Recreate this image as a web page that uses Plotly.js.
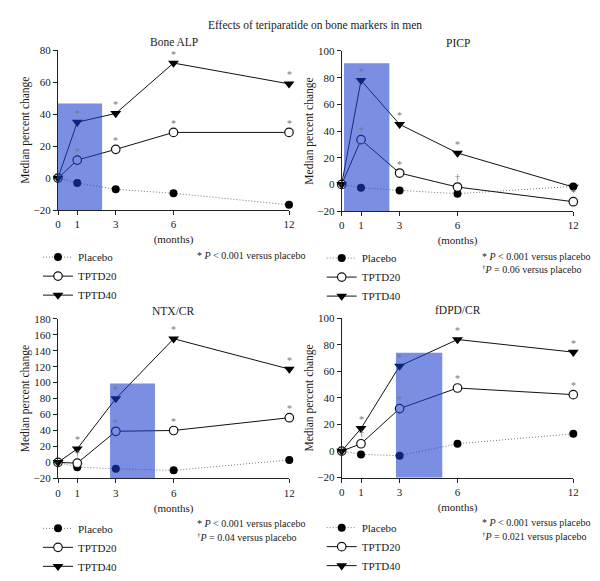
<!DOCTYPE html>
<html>
<head>
<meta charset="utf-8">
<script src="https://cdn.plot.ly/plotly-3.0.1.min.js"></script>
<style>html,body{margin:0;padding:0;background:#fff;}#chart{width:600px;height:581px;}</style>
</head>
<body>
<div id="chart"></div>
<script>
// ---- data ----
var months = [0, 1, 3, 6, 12];
var seriesNames = ["Placebo", "TPTD20", "TPTD40"];
var panelTitles = ["Bone ALP", "PICP", "NTX/CR", "fDPD/CR"];

var alpPlacebo = [0, -3, -7, -9.5, -16.7];
var alpT20 = [0, 11.3, 18, 28.6, 28.6];
var alpT40 = [0, 35, 40.5, 72, 59];
var alpSig20 = ["", "*", "*", "*", "*"];
var alpSig40 = ["", "*", "*", "*", "*"];

var picpPlacebo = [0, -2.5, -4.5, -7, -1.5];
var picpT20 = [0, 33.5, 8.5, -2, -13];
var picpT40 = [0, 78, 45, 23.5, -2];
var picpSig20 = ["", "*", "*", "\u2020", "*"];
var picpSig40 = ["", "*", "*", "*", ""];

var ntxPlacebo = [0, -6, -8, -10, 3];
var ntxT20 = [0, -1, 39, 40, 56];
var ntxT40 = [0, 17, 80, 155, 117];
var ntxSig20 = ["", "\u2020", "*", "*", "*"];
var ntxSig40 = ["", "*", "*", "*", "*"];

var dpdPlacebo = [0, -2.5, -3.5, 5.5, 13];
var dpdT20 = [0, 5.5, 32, 47.5, 42.5];
var dpdT40 = [0, 17, 64, 84, 74.5];
var dpdSig20 = ["", "\u2020", "*", "*", "*"];
var dpdSig40 = ["", "*", "*", "*", "*"];

var yRanges = [[-20, 80], [-20, 100], [-20, 180], [-20, 100]];
// highlighted periods [x0, x1, top] in months / percent
var bandX0 = [0, 0.12, 2.7, 2.81];
var bandX1 = [2.29, 2.47, 5.03, 5.21];
var bandTop = [46.7, 90.9, 99, 74];
var notes1 = "* <i>P</i> &lt; 0.001 versus placebo";
var notes2 = ["", "<sup>\u2020</sup><i>P</i> = 0.06 versus placebo", "<sup>\u2020</sup><i>P</i> = 0.04 versus placebo", "<sup>\u2020</sup><i>P</i> = 0.021 versus placebo"];

var panels = [
  [alpPlacebo, alpT20, alpT40, alpSig20, alpSig40],
  [picpPlacebo, picpT20, picpT40, picpSig20, picpSig40],
  [ntxPlacebo, ntxT20, ntxT40, ntxSig20, ntxSig40],
  [dpdPlacebo, dpdT20, dpdT40, dpdSig20, dpdSig40]
];

var FONT = "Liberation Serif";
var TXT = "#1a1a1a";
// ---- geometry (pixels) ----
var W = 600, H = 581;
var xDom = [[58, 289], [341.7, 573.3], [58, 289.3], [341.7, 573.3]];
var yDom = [[51, 213], [51.7, 214], [323.3, 485], [322.7, 484.3]];

var traces = [];
var layout = {
  width: W, height: H,
  margin: {l: 0, r: 0, t: 0, b: 0},
  paper_bgcolor: "#fff", plot_bgcolor: "#fff",
  font: {family: FONT, size: 11, color: TXT},
  showlegend: true,
  title: {text: "Effects of teriparatide on bone markers in men", x: 315 / W, xanchor: "center", y: 1 - 25 / H, yanchor: "middle", font: {family: FONT, size: 11.5, color: TXT}},
  shapes: [], annotations: []
};

function sigAnnotations(sfx, ys, sigs) {
  for (var i = 0; i < months.length; i++) {
    if (!sigs[i]) continue;
    layout.annotations.push({
      xref: "x" + sfx, yref: "y" + sfx, x: months[i], y: ys[i],
      text: sigs[i], showarrow: false, xanchor: "center", yanchor: "middle",
      yshift: sigs[i] === "*" ? 9 : 10,
      font: {family: FONT, size: 10, color: "#777"}
    });
  }
}

for (var p = 0; p < 4; p++) {
  var sfx = p === 0 ? "" : String(p + 1);
  var d = panels[p];
  var legName = "legend" + sfx;
  var common = {x: months, xaxis: "x" + sfx, yaxis: "y" + sfx, legend: legName, cliponaxis: false, hoverinfo: "skip", mode: "lines+markers"};
  traces.push(Object.assign({}, common, {
    y: d[0], name: seriesNames[0],
    line: {color: "#777", width: 1, dash: "1px,2px"},
    marker: {symbol: "circle", size: 8, color: "#000"}
  }));
  traces.push(Object.assign({}, common, {
    y: d[1], name: seriesNames[1],
    line: {color: "#111", width: 1},
    marker: {symbol: "circle", size: 8.5, color: "#fff", line: {color: "#111", width: 1.2}}
  }));
  traces.push(Object.assign({}, common, {
    y: d[2], name: seriesNames[2],
    line: {color: "#111", width: 1},
    marker: {symbol: "triangle-down", size: 9.5, color: "#000"}
  }));
  sigAnnotations(sfx, d[1], d[3]);
  sigAnnotations(sfx, d[2], d[4]);

  layout["xaxis" + sfx] = {
    domain: [xDom[p][0] / W, xDom[p][1] / W], anchor: "y" + sfx,
    range: [0, 12], tickvals: months, ticktext: months.map(String),
    showline: true, linecolor: "#222", linewidth: 1, ticks: "outside", ticklen: 4, tickcolor: "#222",
    showgrid: false, zeroline: false, tickfont: {family: FONT, size: 11, color: TXT},
    title: {text: "(months)", standoff: 6, font: {family: FONT, size: 11, color: TXT}}
  };
  layout["yaxis" + sfx] = {
    domain: [1 - yDom[p][1] / H, 1 - yDom[p][0] / H], anchor: "x" + sfx,
    range: yRanges[p], dtick: 20, tick0: 0,
    showline: true, linecolor: "#222", linewidth: 1, ticks: "outside", ticklen: 4, tickcolor: "#222",
    showgrid: false, zeroline: false, tickfont: {family: FONT, size: 11, color: TXT},
    title: {text: "Median percent change", standoff: 1, font: {family: FONT, size: 11.5, color: TXT}}
  };
  layout[legName] = {
    x: (xDom[p][0] - 20) / W, xanchor: "left",
    y: 1 - (yDom[p][1] + (p < 2 ? 33 : 36)) / H, yanchor: "top",
    bgcolor: "rgba(0,0,0,0)", borderwidth: 0, itemwidth: 30, traceorder: "normal",
    font: {family: FONT, size: 11, color: TXT}, itemclick: false, itemdoubleclick: false
  };
  layout.shapes.push({
    type: "rect", xref: "x" + sfx, yref: "y" + sfx,
    x0: bandX0[p], x1: bandX1[p], y0: yRanges[p][0], y1: bandTop[p],
    fillcolor: "rgb(25,60,205)", opacity: 0.58, line: {width: 0}, layer: "above"
  });
  layout.annotations.push({
    xref: "paper", yref: "paper", x: (xDom[p][0] + xDom[p][1]) / 2 / W, y: 1 - (yDom[p][0] - 8) / H,
    xanchor: "center", yanchor: "middle", showarrow: false, text: panelTitles[p],
    font: {family: FONT, size: 11.5, color: TXT}
  });
  var nx = (p % 2 === 0) ? 195 : 480;
  layout.annotations.push({
    xref: "paper", yref: "paper", x: nx / W, y: 1 - (yDom[p][1] + 46) / H,
    xanchor: "left", yanchor: "middle", showarrow: false,
    text: notes1, font: {family: FONT, size: 10, color: TXT}
  });
  if (notes2[p]) {
    layout.annotations.push({
      xref: "paper", yref: "paper", x: nx / W, y: 1 - (yDom[p][1] + 59) / H,
      xanchor: "left", yanchor: "middle", showarrow: false,
      text: notes2[p], font: {family: FONT, size: 10, color: TXT}
    });
  }
}

Plotly.newPlot("chart", traces, layout, {staticPlot: true, displayModeBar: false});
</script>
</body>
</html>
